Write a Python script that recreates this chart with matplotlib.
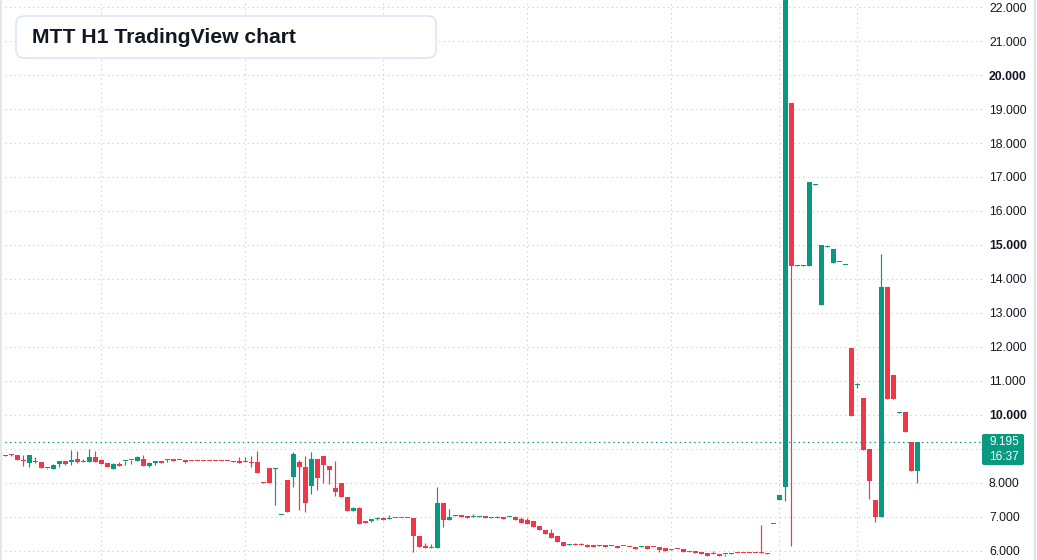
import matplotlib
matplotlib.use("Agg")
import matplotlib.pyplot as plt
from matplotlib.patches import FancyBboxPatch, Rectangle
from matplotlib.transforms import IdentityTransform
import numpy as np

plt.rcParams['font.family'] = ['Liberation Sans', 'DejaVu Sans']

# ---- data ----
opens = [8.79, 8.84, 8.83, 8.66, 8.58, 8.61, 8.63, 8.43, 8.42, 8.55,
         8.66, 8.61, 8.72, 8.66, 8.61, 8.75, 8.69, 8.60, 8.42, 8.55,
         8.65, 8.69, 8.66, 8.72, 8.49, 8.58, 8.64, 8.68, 8.72, 8.69,
         8.69, 8.655, 8.655, 8.655, 8.655, 8.655, 8.655, 8.655, 8.62, 8.66,
         8.63, 8.63, 8.63, 8.04, 8.45, 8.40, 7.05, 8.10, 8.17, 8.63,
         8.48, 7.90, 8.72, 8.80, 8.51, 7.86, 8.01, 7.60, 7.17, 7.25,
         6.89, 6.87, 6.95, 6.96, 6.94, 6.985, 6.985, 6.985, 6.98, 6.45,
         6.16, 6.09, 6.10, 7.42, 6.92, 7.03, 7.06, 7.03, 6.99, 7.01,
         7.03, 6.99, 6.99, 7.00, 6.995, 7.00, 6.94, 6.91, 6.88, 6.74,
         6.62, 6.53, 6.44, 6.26, 6.17, 6.18, 6.18, 6.18, 6.18, 6.14,
         6.18, 6.15, 6.15, 6.155, 6.125, 6.12, 6.11, 6.15, 6.125, 6.12,
         6.09, 6.06, 6.055, 6.06, 6.00, 6.01, 5.98, 5.95, 5.92, 5.92,
         5.90, 5.92, 5.955, 5.955, 5.955, 5.955, 5.96, 5.93, 6.79, 7.50,
         7.88, 19.18, 14.39, 14.39, 14.39, 16.77, 13.24, 14.95, 14.48, 14.49,
         14.40, 11.98, 10.87, 10.50, 9.00, 7.50, 6.99, 13.75, 11.18, 10.07,
         10.08, 9.20, 8.34]
highs = [8.82, 8.84, 8.83, 8.83, 8.83, 8.76, 8.63, 8.44, 8.57, 8.66,
         8.66, 8.98, 8.95, 8.71, 9.01, 8.95, 8.72, 8.60, 8.60, 8.63,
         8.66, 8.69, 8.78, 8.81, 8.61, 8.66, 8.66, 8.72, 8.72, 8.69,
         8.69, 8.655, 8.655, 8.655, 8.655, 8.655, 8.655, 8.655, 8.65, 8.77,
         8.77, 8.80, 8.95, 8.04, 8.45, 8.44, 7.06, 8.10, 8.91, 8.69,
         8.80, 8.91, 8.72, 8.80, 8.51, 8.66, 8.01, 7.60, 7.28, 7.28,
         6.89, 6.95, 6.99, 7.00, 7.07, 6.985, 6.985, 6.985, 6.98, 6.45,
         6.24, 6.21, 7.88, 7.42, 7.24, 7.07, 7.06, 7.03, 7.09, 7.02,
         7.03, 6.99, 7.03, 7.00, 7.005, 7.03, 7.00, 6.97, 6.88, 6.74,
         6.62, 6.65, 6.44, 6.26, 6.21, 6.24, 6.24, 6.21, 6.18, 6.17,
         6.18, 6.16, 6.15, 6.155, 6.125, 6.12, 6.15, 6.15, 6.125, 6.12,
         6.09, 6.06, 6.055, 6.06, 6.00, 6.01, 5.98, 5.95, 6.01, 5.92,
         5.91, 5.95, 5.955, 5.955, 5.955, 5.955, 6.76, 5.93, 6.80, 7.65,
         23.00, 19.18, 14.41, 14.41, 16.85, 16.79, 15.00, 14.96, 14.88, 14.50,
         14.41, 11.98, 10.95, 10.50, 9.00, 7.50, 14.74, 13.75, 11.18, 10.08,
         10.08, 9.20, 9.195]
lows = [8.78, 8.80, 8.67, 8.49, 8.46, 8.58, 8.43, 8.40, 8.40, 8.46,
        8.52, 8.52, 8.58, 8.61, 8.61, 8.63, 8.55, 8.46, 8.40, 8.49,
        8.52, 8.55, 8.64, 8.49, 8.46, 8.52, 8.58, 8.63, 8.64, 8.67,
        8.58, 8.645, 8.645, 8.645, 8.645, 8.645, 8.645, 8.645, 8.62, 8.58,
        8.61, 8.46, 8.28, 7.99, 7.99, 7.36, 7.05, 7.14, 7.87, 7.22,
        7.14, 7.67, 7.80, 8.00, 7.98, 7.61, 7.58, 7.17, 7.17, 6.78,
        6.81, 6.85, 6.92, 6.90, 6.94, 6.975, 6.975, 6.975, 5.96, 6.11,
        6.08, 6.09, 6.10, 6.72, 6.92, 7.03, 7.01, 6.98, 6.99, 7.01,
        6.98, 6.98, 6.98, 6.95, 6.995, 6.92, 6.83, 6.80, 6.72, 6.63,
        6.51, 6.39, 6.26, 6.16, 6.17, 6.17, 6.17, 6.13, 6.13, 6.14,
        6.13, 6.15, 6.10, 6.145, 6.115, 6.07, 6.11, 6.07, 6.115, 5.98,
        6.01, 6.04, 6.045, 5.98, 5.98, 5.95, 5.92, 5.86, 5.91, 5.86,
        5.86, 5.92, 5.945, 5.945, 5.945, 5.945, 5.94, 5.92, 6.79, 7.50,
        7.48, 6.15, 14.39, 14.39, 14.39, 16.77, 13.24, 14.95, 14.48, 14.49,
        14.40, 9.98, 10.80, 8.98, 7.54, 6.85, 6.99, 10.47, 10.47, 10.07,
        9.49, 8.34, 8.01]
closes = [8.80, 8.82, 8.67, 8.65, 8.83, 8.62, 8.43, 8.44, 8.54, 8.66,
          8.57, 8.69, 8.63, 8.61, 8.75, 8.63, 8.55, 8.46, 8.57, 8.49,
          8.66, 8.67, 8.76, 8.49, 8.58, 8.66, 8.58, 8.69, 8.64, 8.675,
          8.61, 8.645, 8.645, 8.645, 8.645, 8.645, 8.645, 8.645, 8.63, 8.58,
          8.62, 8.60, 8.28, 7.99, 7.99, 8.41, 7.06, 7.14, 8.86, 8.48,
          7.40, 8.72, 8.14, 8.52, 8.37, 7.73, 7.58, 7.17, 7.25, 6.78,
          6.83, 6.95, 6.96, 6.90, 6.95, 6.975, 6.975, 6.975, 6.43, 6.11,
          6.08, 6.10, 7.42, 6.92, 7.00, 7.04, 7.01, 6.98, 7.00, 7.02,
          6.98, 6.98, 6.98, 6.95, 7.005, 6.92, 6.83, 6.80, 6.72, 6.63,
          6.51, 6.39, 6.26, 6.16, 6.18, 6.17, 6.17, 6.13, 6.13, 6.15,
          6.13, 6.16, 6.10, 6.145, 6.115, 6.07, 6.12, 6.07, 6.115, 6.04,
          6.01, 6.04, 6.045, 5.98, 5.98, 5.95, 5.92, 5.86, 5.91, 5.86,
          5.91, 5.93, 5.945, 5.945, 5.945, 5.945, 5.94, 5.92, 6.80, 7.65,
          22.90, 14.39, 14.41, 14.41, 16.85, 16.79, 15.00, 14.96, 14.88, 14.50,
          14.41, 9.98, 10.88, 8.98, 8.07, 6.99, 13.75, 10.47, 10.47, 10.08,
          9.49, 8.34, 9.195]

price_ticks = [6, 7, 8, 9, 10, 11, 12, 13, 14, 15, 16, 17, 18, 19, 20, 21, 22]
bold_ticks = [10, 15, 20]
hidden_ticks = [9]   # covered by the last-price label in the reference
day_breaks = [16, 40, 63, 87, 111, 129, 142]
title = "MTT H1 TradingView chart"
last_price = 9.195
countdown = "16:37"

GREEN = "#089981"
RED = "#F23645"

W, H = 1037, 560
fig = plt.figure(figsize=(W / 100, H / 100), dpi=100)
fig.patch.set_facecolor("white")

plot_right = 982
ax = fig.add_axes([0, 0, plot_right / W, 1])
ax.set_facecolor("white")

n = len(opens)
x = np.arange(n)
o = np.array(opens); c = np.array(closes)
hi = np.array(highs); lo = np.array(lows)
up = c >= o
cols = np.where(up, GREEN, RED)

px_per_unit_y = H / (22.206 - 5.735)
min_body = 1.0 / px_per_unit_y

ax.vlines(x, lo, hi, colors=cols, linewidth=0.85, zorder=3)
bottoms = np.minimum(o, c)
heights = np.maximum(np.abs(c - o), min_body)
ax.bar(x, heights, bottom=bottoms, width=5 / 6, color=cols, linewidth=0, zorder=4)

ax.set_xlim(-5 / 6, -5 / 6 + plot_right / 6)
ax.set_ylim(5.735, 22.206)

ax.set_xticks(day_breaks)
ax.set_xticklabels([])
ax.set_yticks(price_ticks)
ax.set_yticklabels(["" if v in hidden_ticks else f"{v:.3f}" for v in price_ticks])
ax.yaxis.tick_right()
ax.tick_params(axis="both", length=0)
ax.tick_params(axis="y", pad=5, labelsize=8.8, labelcolor="#131722")
for lab, v in zip(ax.get_yticklabels(), price_ticks):
    if v in bold_ticks:
        lab.set_fontweight("bold")
ax.grid(True, color="#d0d0d0", linewidth=0.8, linestyle=(0, (1.2, 3.0)), zorder=0)
for s in ax.spines.values():
    s.set_visible(False)

# last price dotted line
ax.axhline(last_price, color=GREEN, linewidth=0.9, linestyle=(0, (1.2, 2.6)), zorder=2)

idt = IdentityTransform()
def py(y):
    return H - y

# left and right borders
fig.add_artist(Rectangle((0, 0), 2, H, transform=idt, color="#e6e6e6", lw=0))
fig.add_artist(Rectangle((1034, 0), 1.5, H, transform=idt, color="#e3e3e3", lw=0))

# price label
fig.add_artist(FancyBboxPatch((982, py(465)), 42, 31, boxstyle="round,pad=0,rounding_size=2",
                              transform=idt, facecolor=GREEN, edgecolor="none"))
fig.text(989 / W, 1 - 449.5 / H, f"{last_price:.3f}\n{countdown}", color="white",
         fontsize=8.6, ha="left", va="center", linespacing=1.3)

# title box
fig.add_artist(FancyBboxPatch((16, py(58)), 420, 42, boxstyle="round,pad=0,rounding_size=8",
                              transform=idt, facecolor="white", edgecolor="#d5e3f5", linewidth=1.0,
                              zorder=10))
fig.text(32 / W, 1 - 37.5 / H, title, color="#131722", fontsize=15.2, fontweight="bold",
         ha="left", va="center", zorder=11)

fig.savefig("out.png", dpi=100, facecolor="white")
